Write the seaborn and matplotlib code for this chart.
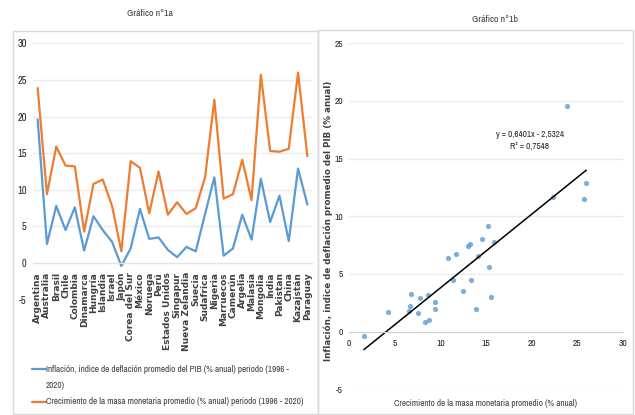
import matplotlib
matplotlib.use("Agg")
import matplotlib.pyplot as plt
from matplotlib.lines import Line2D
from matplotlib.patches import Rectangle
import numpy as np
import pandas as pd
import seaborn as sns

# --- data ---
countries = [
    "Argentina", "Australia", "Brasil", "Chile", "Colombia", "Dinamarca",
    "Hungría", "Islandia", "Israel", "Japón", "Corea del Sur", "México",
    "Noruega", "Perú", "Estados Unidos", "Singapur", "Nueva Zelandia",
    "Suecia", "Sudafrica", "Nigeria", "Marruecos", "Camerún", "Argelia",
    "Malasia", "Mongolia", "India", "Pakistan", "China", "Kazajstán", "Paraguay",
]
inflation = [19.6, 2.6, 7.8, 4.5, 7.6, 1.7, 6.4, 4.5, 2.9, -0.4, 2.0, 7.4,
             3.3, 3.5, 1.8, 0.8, 2.2, 1.6, 6.7, 11.7, 1.0, 2.0, 6.6, 3.2,
             11.5, 5.6, 9.2, 3.0, 12.9, 8.0]
money_growth = [23.9, 9.4, 15.9, 13.3, 13.2, 4.3, 10.8, 11.4, 7.8, 1.6, 13.9, 13.0,
                6.8, 12.5, 6.6, 8.3, 6.7, 7.5, 11.7, 22.3, 8.8, 9.4, 14.1, 8.6,
                25.7, 15.3, 15.2, 15.6, 26.0, 14.6]

label_infl = "Inflación, indice de deflación promedio del PIB (% anual) periodo (1996 -\n2020)"
label_money = "Crecimiento de la masa monetaria promedio (% anual) periodo (1996 - 2020)"
eq_text = "y = 0,6401x - 2,5324\nR² = 0,7548"

BLUE = "#5B9BD5"
ORANGE = "#ED7D31"
GRID = "#D9D9D9"
TXT = "#404040"
DARK = "#262626"

sns.set_style("white")
NARROW = ["Archivo Narrow", "Liberation Sans", "DejaVu Sans"]
WIDE = ["DejaVu Sans"]
plt.rcParams["font.family"] = NARROW

W, H = 635, 415
fig = plt.figure(figsize=(W / 100, H / 100), dpi=100)


def fx(px):
    return px / W


def fy(py):
    return 1 - py / H


# panel frames
for x0, y0, x1, y1 in [(13, 31, 318, 414), (318, 30, 633, 414)]:
    fig.add_artist(Rectangle((fx(x0), fy(y1)), fx(x1) - fx(x0), fy(y0) - fy(y1),
                             transform=fig.transFigure, fill=False,
                             edgecolor=GRID, linewidth=1.0))

# --- left panel: lines per country ---
ax1 = fig.add_axes([fx(33), fy(299.7), fx(312) - fx(33), fy(43.3) - fy(299.7)])
df = pd.DataFrame({
    "pos": list(range(len(countries))) * 2,
    "valor": inflation + money_growth,
    "serie": ["infl"] * len(countries) + ["money"] * len(countries),
})
sns.lineplot(data=df, x="pos", y="valor", hue="serie",
             palette={"infl": BLUE, "money": ORANGE}, linewidth=1.6,
             legend=False, ax=ax1)
for s in ["top", "right", "left"]:
    ax1.spines[s].set_visible(False)
ax1.spines["bottom"].set_position(("data", 0))
ax1.spines["bottom"].set_color("#E3E3E3")
ax1.set_xlim(-0.5, len(countries) - 0.5)
ax1.set_ylim(-5, 30)
ax1.set_yticks(range(-5, 31, 5))
ax1.set_xticks(range(len(countries)))
ax1.set_xticklabels(countries, rotation=90, family=WIDE, fontweight="bold",
                    fontsize=6.5, color=TXT)
ax1.set_yticklabels([str(v) for v in range(-5, 31, 5)], fontweight=600,
                    fontsize=7.5, color=DARK)
ax1.tick_params(axis="both", length=0)
ax1.tick_params(axis="x", pad=6.5)
ax1.tick_params(axis="y", pad=4.5)
ax1.yaxis.grid(True, color="#EBEBEB", linewidth=1.0)
ax1.get_ygridlines()[0].set_visible(False)
ax1.set_axisbelow(True)
ax1.set_xlabel("")
ax1.set_ylabel("")

fig.text(fx(150), fy(13), "Gráfico n°1a", ha="center", va="center",
         fontsize=7, color=TXT)

# manual legend
fig.add_artist(Line2D([fx(31.5), fx(45.5)], [fy(369.3), fy(369.3)],
                      transform=fig.transFigure, color=BLUE, linewidth=1.6))
fig.add_artist(Line2D([fx(31.5), fx(45.5)], [fy(401.7), fy(401.7)],
                      transform=fig.transFigure, color=ORANGE, linewidth=1.6))
infl_lines = label_infl.split("\n")
fig.text(fx(46), fy(369.3), infl_lines[0], ha="left", va="center",
         fontsize=6.6, color=TXT)
fig.text(fx(46), fy(385.5), infl_lines[1], ha="left", va="center",
         fontsize=6.6, color=TXT)
fig.text(fx(46), fy(401.7), label_money, ha="left", va="center",
         fontsize=6.6, color=TXT)

# --- right panel: scatter with trend line ---
ax2 = fig.add_axes([fx(349.3), fy(389.3), fx(622.7) - fx(349.3), fy(43.3) - fy(389.3)])
sns.regplot(x=np.array(money_growth), y=np.array(inflation), ci=None, ax=ax2,
            scatter_kws={"color": BLUE, "s": 14, "linewidths": 0},
            line_kws={"color": "black", "linewidth": 1.1})
for s in ["top", "right", "left"]:
    ax2.spines[s].set_visible(False)
ax2.spines["bottom"].set_position(("data", 0))
ax2.spines["bottom"].set_color("#D0D0D0")
ax2.set_xlim(0, 30)
ax2.set_ylim(-5, 25)
ax2.set_xticks(range(0, 31, 5))
ax2.set_yticks(range(-5, 26, 5))
ax2.set_xticklabels([str(v) for v in range(0, 31, 5)], fontweight=600,
                    fontsize=6.8, color=DARK)
ax2.set_yticklabels([str(v) for v in range(-5, 26, 5)], fontweight=600,
                    fontsize=6.8, color=DARK)
ax2.tick_params(axis="both", length=0)
ax2.tick_params(axis="y", pad=4.5)
ax2.tick_params(axis="x", pad=5)
ax2.yaxis.grid(True, color="#EBEBEB", linewidth=1.0)
ax2.set_axisbelow(True)
ax2.set_xlabel("")
ax2.set_ylabel("")
ax2.text(19.8, 16.6, eq_text, ha="center", va="center", fontsize=6.5,
         fontweight=600, color=DARK, linespacing=1.35)

fig.text(fx(495), fy(20), "Gráfico n°1b", ha="center", va="center",
         fontsize=7, color=TXT)
fig.text(fx(486), fy(403), "Crecimiento de la masa monetaria promedio (% anual)",
         ha="center", va="center", fontsize=6.6, fontweight=600, color=TXT)
fig.text(fx(328), fy(221), "Inflación, indice de deflación promedio del PIB (% anual)",
         ha="center", va="center", rotation=90, fontsize=6.3,
         family=WIDE, fontweight="bold", color=TXT)

fig.savefig("out.png", dpi=100)
